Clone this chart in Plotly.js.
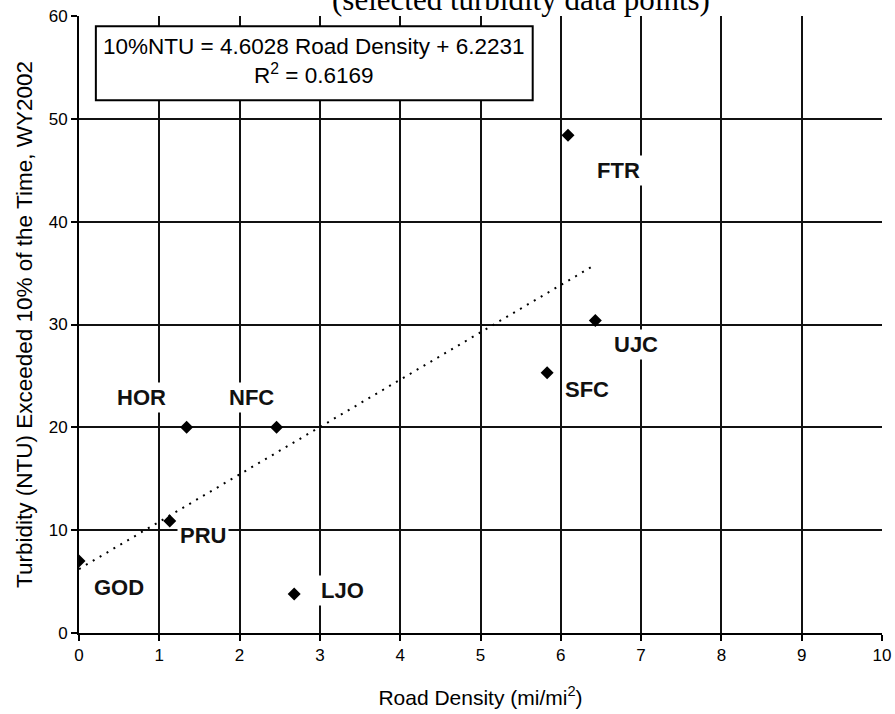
<!DOCTYPE html>
<html>
<head>
<meta charset="utf-8">
<script src="https://cdn.plot.ly/plotly-3.0.1.min.js"></script>
<style>html,body{margin:0;padding:0;background:#fff;}#chart{width:895px;height:714px;}</style>
</head>
<body>
<div id="chart"></div>
<script>
// Data
var sites = ["GOD", "PRU", "HOR", "NFC", "LJO", "SFC", "FTR", "UJC"];
var roadDensity = [0.0, 1.13, 1.34, 2.46, 2.68, 5.83, 6.09, 6.43];
var turbidity10 = [7.0, 10.9, 20.0, 20.0, 3.8, 25.3, 48.4, 30.4];
// label positions (data coords) next to each point
var labelX = [0.5, 1.54, 0.78, 2.15, 3.28, 6.33, 6.72, 6.94];
var labelY = [4.4, 9.5, 22.9, 22.9, 4.1, 23.7, 45.0, 28.1];
// linear trendline endpoints (10%NTU = 4.6028 Road Density + 6.2231)
var trendX = [0.0, 6.43];
var trendY = [6.22, 35.82];
var xTicks = [0, 1, 2, 3, 4, 5, 6, 7, 8, 9, 10];
var yTicks = [0, 10, 20, 30, 40, 50, 60];

var FONT = 'Liberation Sans, Arial, sans-serif';

var traces = [
  {x: trendX, y: trendY, mode: 'lines', type: 'scatter',
   line: {color: '#000', width: 2, dash: '2px,6px'}, hoverinfo: 'skip'},
  {x: roadDensity, y: turbidity10, text: sites, mode: 'markers', type: 'scatter',
   marker: {symbol: 'diamond', size: 10, color: '#000'}}
];

var annotations = sites.map(function(s, i) {
  return {x: labelX[i], y: labelY[i], xref: 'x', yref: 'y', text: '<b>' + s + '</b>',
          showarrow: false, bgcolor: '#fff', borderpad: 2,
          font: {family: FONT, size: 22, color: '#111'}};
});
annotations.push({
  x: 2.93, y: 55.6, xref: 'x', yref: 'y', showarrow: false,
  text: '10%NTU = 4.6028 Road Density + 6.2231<br>R<sup>2</sup> = 0.6169',
  align: 'center', font: {family: FONT, size: 22.5, color: '#000'}
});
annotations.push({
  x: 0.55, y: 1, xref: 'paper', yref: 'paper', xanchor: 'center', yanchor: 'bottom', yshift: -3,
  showarrow: false, text: '(selected turbidity data points)',
  font: {family: 'Liberation Serif, Times New Roman, serif', size: 31, color: '#000'}
});

var layout = {
  width: 895, height: 714,
  margin: {l: 79, r: 13, t: 16, b: 81},
  paper_bgcolor: '#fff', plot_bgcolor: '#fff',
  showlegend: false,
  font: {family: FONT, color: '#000'},
  xaxis: {
    range: [0, 10], tickvals: xTicks, ticktext: xTicks.map(String),
    showgrid: true, gridcolor: '#111', gridwidth: 2,
    zeroline: false, showline: true, linecolor: '#000', linewidth: 2, mirror: false,
    ticks: 'outside', ticklen: 6, tickcolor: '#000', tickwidth: 2,
    tickfont: {family: FONT, size: 17, color: '#000'},
    title: {text: 'Road Density (mi/mi<sup>2</sup>)', font: {family: FONT, size: 21, color: '#000'}, standoff: 26}
  },
  yaxis: {
    range: [0, 60], tickvals: yTicks, ticktext: yTicks.map(String),
    showgrid: true, gridcolor: '#111', gridwidth: 2,
    zeroline: false, showline: true, linecolor: '#000', linewidth: 2,
    ticks: 'outside', ticklen: 6, tickcolor: '#000', tickwidth: 2,
    tickfont: {family: FONT, size: 17, color: '#000'},
    title: {text: 'Turbidity (NTU) Exceeded 10% of the Time, WY2002', font: {family: FONT, size: 22.5, color: '#000'}, standoff: 10}
  },
  shapes: [
    {type: 'rect', xref: 'x', yref: 'y', x0: 0.21, x1: 5.65, y0: 51.8, y1: 59.0,
     fillcolor: '#fff', line: {color: '#000', width: 2}, layer: 'above'}
  ],
  annotations: annotations
};

Plotly.newPlot('chart', traces, layout, {displayModeBar: false, staticPlot: true});
</script>
</body>
</html>
